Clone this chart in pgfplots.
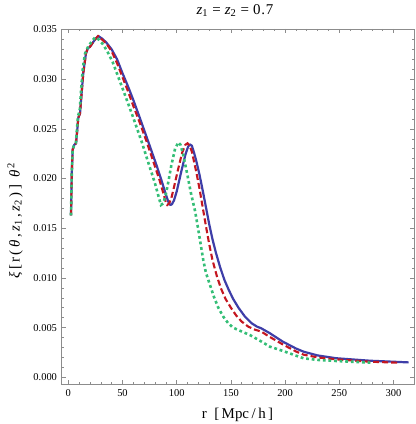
\documentclass[border=0pt]{standalone}
\usepackage{pgfplots}
\pgfplotsset{compat=1.18}
\usepackage{fontspec}
\setmainfont{Liberation Serif}
\definecolor{cblue}{RGB}{62,62,168}
\definecolor{cred}{RGB}{196,22,32}
\definecolor{cgreen}{RGB}{52,190,118}
\definecolor{cframe}{RGB}{140,140,140}
\begin{document}
\begin{tikzpicture}[baseline=(bbbot)]
\coordinate (bbbot) at (0,0);
\begin{axis}[
  at={(61bp,40bp)}, anchor=south west,
  scale only axis, width=353bp, height=355bp,
  xmin=-6.73, xmax=318.9, ymin=-0.000674, ymax=0.03505,
  xtick={0,50,...,300}, minor x tick num=4,
  ytick={0,0.005,...,0.035}, minor y tick num=4,
  scaled y ticks=false,
  /pgf/number format/assume math mode=true,
  tick label style={font=\fontsize{10.5}{12}\selectfont},
  axis line style={cframe, line width=0.8pt},
  every tick/.style={cframe, line width=0.6pt},
  major tick length=4.5bp, minor tick length=2.5bp,
  tick align=inside,
  xticklabel style={yshift=-2bp},
  yticklabel style={xshift=-0.5bp, /pgf/number format/.cd, fixed, fixed zerofill, precision=3},
  title={\textit{z}\textsubscript{1}\;=\;\textit{z}\textsubscript{2}\;=\;0\kern0.8pt.\kern0.8pt7},
  title style={at={(axis description cs:0.493,1.035)}, anchor=center, yshift=0pt, font=\fontsize{15}{17}\selectfont},
  xlabel={r\ \ [\,Mpc\,/\,h\,]},
  xlabel style={at={(axis description cs:0.5,-0.088)}, anchor=center, font=\fontsize{15}{17}\selectfont},
  ylabel={\textit{ξ}\,[\,r\,(\,\textit{θ}\,,\,\textit{z}\textsubscript{1}\,,\,\textit{z}\textsubscript{2}\,)\,]\ \ \textit{θ}\textsuperscript{\,2}},
  ylabel style={at={(axis description cs:-0.13,0.46)}, anchor=center, font=\fontsize{15}{17}\selectfont},
]
\addplot[cblue, line width=2.2bp, line join=round] table {
2.5 0.0163
3.2 0.0205
4 0.0229
5.5 0.0234
7.1 0.02354
8.2 0.0248
9.2 0.0261
10.8 0.02656
12.3 0.0286
13.8 0.0306
16.3 0.0326
18 0.0331
20 0.03326
23.1 0.03376
25.5 0.0341
27.7 0.03434
31 0.0341
35 0.0337
40 0.0330
45 0.0320
50 0.0306
55 0.0293
60 0.0279
66 0.0261
73.8 0.0237
81.5 0.0213
86 0.0198
90 0.0184
92.5 0.0176
94 0.01734
95.5 0.0174
97.5 0.0178
100 0.0187
104 0.0206
108 0.0224
110.5 0.0232
112.2 0.02344
114 0.0233
116 0.0226
118 0.0218
121 0.0204
124 0.0188
127 0.0171
130 0.0154
133 0.0139
136 0.0126
140 0.0111
144 0.0098
148 0.0088
152 0.0079
157 0.0070
163 0.0061
169 0.00545
174 0.0051
178 0.00493
186 0.00443
198 0.00358
210 0.00290
217 0.00258
230 0.00220
247 0.00192
278 0.00167
314 0.00150
};
\addplot[cred, line width=2.1bp, dash pattern=on 6bp off 3bp] table {
2.5 0.0163
3.2 0.0205
4 0.0229
5.5 0.0234
7.1 0.02354
8.2 0.0248
9.2 0.0261
10.8 0.02656
12.3 0.0286
13.8 0.0306
16.3 0.0326
18 0.0331
20 0.03326
23.1 0.03376
25.5 0.0341
27.5 0.03434
31 0.0340
35 0.0336
40 0.0328
45 0.0316
50 0.0302
55 0.0288
60 0.0273
66 0.0256
72.3 0.0237
80 0.0212
84 0.0199
88 0.0184
90 0.0176
91.3 0.01734
93 0.0175
95 0.0180
97 0.0189
101 0.0208
105 0.0226
108 0.0234
110 0.02355
112 0.0233
114 0.0227
116 0.0217
118 0.0207
121 0.0190
124 0.0171
127 0.0152
130 0.0134
133 0.0118
137 0.0102
141 0.0089
145 0.0079
150 0.0070
155 0.0062
160 0.0056
166 0.0051
172 0.0048
178 0.0046
186 0.00405
198 0.0033
210 0.0026
217 0.00228
230 0.0020
247 0.00181
278 0.00157
304 0.00147
};
\addplot[cgreen, line width=2.6bp, dash pattern=on 2.8bp off 2.8bp] table {
2.5 0.0163
3.2 0.0205
4 0.0229
5.5 0.0234
7 0.0236
8 0.0250
9 0.0263
10.5 0.0268
12 0.0292
13.5 0.0312
15.5 0.0326
18 0.0332
21 0.0337
24.6 0.0342
28 0.0340
32 0.0335
36 0.0328
41 0.0317
45.5 0.0304
52 0.0285
60 0.0261
67.7 0.0237
75 0.0212
80 0.0195
83 0.0183
85.5 0.01734
87.5 0.0175
89.5 0.0182
92 0.0195
95 0.0213
98.5 0.0230
101.5 0.02364
103.5 0.0234
106 0.0224
110 0.0203
113 0.0186
117 0.0167
120 0.0148
124.5 0.0118
127 0.0105
130.7 0.0093
134 0.0082
138.4 0.0070
143 0.0061
147.6 0.00543
152 0.0050
156.8 0.00476
167.6 0.00425
178.4 0.00358
186 0.00308
198 0.00265
217 0.00191
230 0.00175
247.6 0.00164
280 0.00147
};
\end{axis}
\pgfresetboundingbox
\path[use as bounding box] (0,0) rectangle (416bp,424bp);
\end{tikzpicture}
\end{document}
